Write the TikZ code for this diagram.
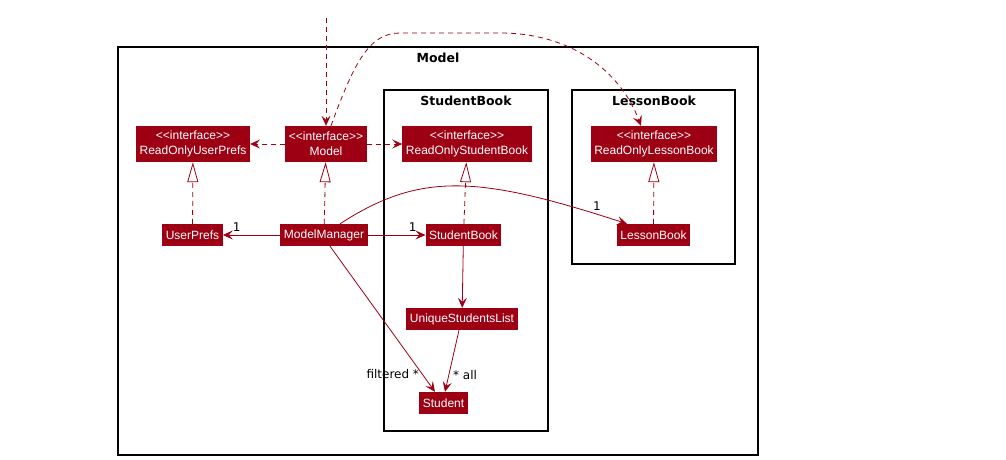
\documentclass[tikz,border=0pt]{standalone}
\usepackage{fontspec}
\usepackage{tikz}
\usetikzlibrary{arrows.meta}
\newfontfamily\klassfont{Liberation Sans}
\newfontfamily\titelfont{DejaVu Sans}
\definecolor{modell}{HTML}{9D0012}
\tikzset{
  klasse/.style={fill=modell,text=white,inner xsep=3.5pt,inner ysep=0pt,minimum height=22pt,
    font=\klassfont\fontsize{12}{15}\selectfont},
  iface/.style={klasse,align=center,minimum height=36pt},
  paket/.style={draw=black,line width=1.2pt},
  titel/.style={font=\titelfont\bfseries\fontsize{12.5}{15}\selectfont},
  beschr/.style={font=\titelfont\fontsize{12}{14}\selectfont,text=black,inner sep=1pt},
  assoz/.style={-{Stealth[length=10pt,width=9pt,inset=4pt]},modell,line width=0.8pt},
  abh/.style={assoz,dash pattern=on 5pt off 4pt},
  real/.style={-{Triangle[open,length=20pt,width=11pt]},modell,line width=0.8pt,dash pattern=on 5pt off 4pt},
}
\begin{document}
\begin{tikzpicture}[x=1pt,y=-1pt]
  \useasboundingbox (0,0) rectangle (1006,460);
  % Pakete
  \draw[paket] (118,47) rectangle (758,455);
  \draw[paket] (384,90) rectangle (548,431);
  \draw[paket] (572,90) rectangle (735,264);
  \node[titel] (tmodel) at (438,58) {Model};
  \node[titel] (tsb) at (466,101) {StudentBook};
  \node[titel] (tlb) at (654,101) {LessonBook};
  % Klassen
  \node[iface] (roup) at (193,144) {<<interface>>\\ReadOnlyUserPrefs};
  \node[iface] (model) at (326,144) {<<interface>>\\Model};
  \node[iface] (rosb) at (467,144) {<<interface>>\\ReadOnlyStudentBook};
  \node[iface] (rolb) at (654,144) {<<interface>>\\ReadOnlyLessonBook};
  \node[klasse] (up) at (192.5,235) {UserPrefs};
  \node[klasse] (mm) at (324,235) {ModelManager};
  \node[klasse] (sb) at (463.5,235) {StudentBook};
  \node[klasse] (lb) at (653.5,235) {LessonBook};
  \node[klasse] (usl) at (462,319) {UniqueStudentsList};
  \node[klasse] (st) at (443.5,403) {Student};
  \coordinate (oben) at (326,18);
  % Abhaengigkeiten
  \draw[abh] (oben) -- (model.north);
  \draw[abh] ([xshift=5pt]model.north) .. controls (355,60) and (370,33) .. (400,33)
    -- (500,33) .. controls (570,33) and (620,70) .. ([xshift=-13pt]rolb.north);
  \draw[abh] (model) -- (roup);
  \draw[abh] (model) -- (rosb);
  % Realisierungen
  \draw[real] (up) -- (roup);
  \draw[real] (mm) -- (model);
  \draw[real] (sb) -- (rosb);
  \draw[real] (lb) -- (rolb);
  % Assoziationen
  \draw[assoz] (mm) -- (up) node[beschr,pos=0.76,above=2pt] {1};
  \draw[assoz] (mm) -- (sb) node[beschr,pos=0.78,above=2pt] {1};
  \draw[assoz] ([xshift=16pt]mm.north) .. controls (420,172) and (477,175) .. ([xshift=-26.5pt]lb.north)
    node[beschr,pos=0.93,above=2pt] {1};
  \draw[assoz] (sb) -- (usl);
  \draw[assoz] ([xshift=6pt]mm.south) -- ([xshift=-8.5pt]st.north)
    node[beschr,pos=0.88,left=2pt] {filtered *};
  \draw[assoz] ([xshift=-3pt]usl.south) -- ([xshift=1.5pt]st.north)
    node[beschr,pos=0.73,right=3pt] {* all};
\end{tikzpicture}
\end{document}
